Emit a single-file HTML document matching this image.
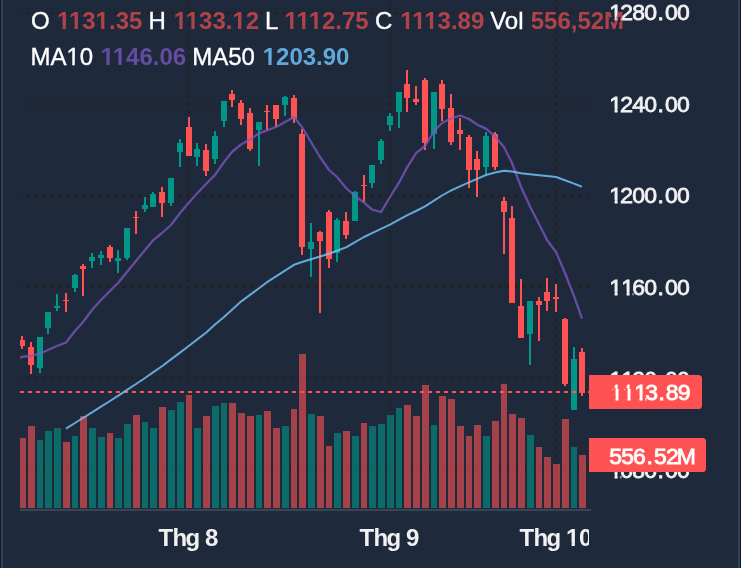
<!DOCTYPE html>
<html lang="vi"><head><meta charset="utf-8"><title>Chart</title>
<style>html,body{margin:0;padding:0;background:#1e293b;}body{width:741px;height:568px;overflow:hidden;position:relative;}svg{display:block;position:absolute;left:0;top:0;}text{font-family:"Liberation Sans",sans-serif;white-space:pre;}</style>
</head><body>
<svg width="741" height="568" viewBox="0 0 741 568">
<defs><clipPath id="pane"><rect x="20" y="0" width="569" height="508"/></clipPath>
<clipPath id="taxis"><rect x="0" y="511" width="589.1" height="57"/></clipPath>
<clipPath id="nofoot"><path clip-rule="evenodd" d="M0 0H741V568H0zM609.64 17.01H614.66V22.00H609.64zM617.51 17.01H620.81V22.00H617.51zM57.41 25.65H62.50V30.60H57.41zM65.79 25.65H74.52V30.60H65.79zM77.81 25.65H82.60V30.60H77.81zM96.13 25.65H101.22V30.60H96.13zM104.51 25.65H109.30V30.60H104.51zM174.21 25.65H179.30V30.60H174.21zM182.59 25.65H191.32V30.60H182.59zM194.61 25.65H199.40V30.60H194.61zM232.95 25.65H238.04V30.60H232.95zM241.33 25.65H246.11V30.60H241.33zM285.11 25.65H290.20V30.60H285.11zM293.49 25.65H302.22V30.60H293.49zM305.51 25.65H314.25V30.60H305.51zM317.54 25.65H322.33V30.60H317.54zM400.71 25.65H405.80V30.60H400.71zM409.09 25.65H417.82V30.60H409.09zM421.11 25.65H429.85V30.60H421.11zM433.14 25.65H437.93V30.60H433.14zM101.21 61.65H106.30V66.60H101.21zM109.59 61.65H118.32V66.60H109.59zM121.61 61.65H126.27V66.60H121.61zM263.21 61.65H268.30V66.60H263.21zM271.59 61.65H276.38V66.60H271.59zM67.05 62.13H72.26V66.77H67.05zM74.73 62.13H79.75V66.77H74.73zM609.64 109.01H614.66V114.00H609.64zM617.51 109.01H620.81V114.00H617.51zM609.64 200.01H614.66V205.00H609.64zM617.51 200.01H620.81V205.00H617.51zM609.64 292.01H614.66V297.00H609.64zM617.51 292.01H626.66V297.00H617.51zM629.51 292.01H632.75V297.00H629.51zM609.64 384.01H614.66V389.00H609.64zM617.51 384.01H626.66V389.00H617.51zM629.51 384.01H632.81V389.00H629.51zM610.54 397.01H615.57V402.00H610.54zM618.42 397.01H627.57V402.00H618.42zM630.42 397.01H639.56V402.00H630.42zM642.41 397.01H645.49V402.00H642.41zM609.64 475.01H614.66V480.00H609.64zM617.51 475.01H620.56V480.00H617.51zM566.51 542.65H571.60V547.60H566.51zM574.89 542.65H579.68V547.60H574.89z"/></clipPath>
</defs>
<rect x="0" y="0" width="741" height="568" fill="#1e293b"/>
<rect x="0" y="0" width="1" height="568" fill="#0f172a"/>
<rect x="1" y="0" width="2" height="568" fill="#334155"/>
<rect x="738" y="0" width="2" height="568" fill="#334155"/>
<rect x="740" y="0" width="1" height="568" fill="#0f172a"/>
<g fill="#f1f1f1" stroke="#f1f1f1" stroke-width="0.8" clip-path="url(#nofoot)">
<text x="598.51 609.24 621.02 632.81 645.93 653.15 664.93" y="20.000" font-size="22.6" transform="scale(1.018,1)">1280.00</text>
<text x="598.51 609.24 621.10 632.81 645.93 653.15 664.93" y="112.000" font-size="22.6" transform="scale(1.018,1)">1240.00</text>
<text x="598.51 609.24 621.02 632.81 645.93 653.15 664.93" y="203.000" font-size="22.6" transform="scale(1.018,1)">1200.00</text>
<text x="598.51 610.30 620.95 632.81 645.93 653.15 664.93" y="295.000" font-size="22.6" transform="scale(1.018,1)">1160.00</text>
<text x="598.51 610.30 621.02 632.81 645.93 653.15 664.93" y="387.000" font-size="22.6" transform="scale(1.018,1)">1120.00</text>
<text x="598.51 609.24 621.02 632.81 645.93 653.15 664.93" y="478.000" font-size="22.6" transform="scale(1.018,1)">1080.00</text>
</g>
<g clip-path="url(#pane)">
<g stroke="#24211e" stroke-width="2" stroke-dasharray="4 4" fill="none">
<line x1="189" y1="-2" x2="189" y2="508"/>
<line x1="390" y1="-2" x2="390" y2="508"/>
<line x1="556" y1="-2" x2="556" y2="508"/>
<line x1="18" y1="13" x2="589" y2="13"/>
<line x1="18" y1="104" x2="589" y2="104"/>
<line x1="18" y1="196" x2="589" y2="196"/>
<line x1="18" y1="287" x2="589" y2="287"/>
<line x1="18" y1="378" x2="589" y2="378"/>
<line x1="18" y1="470" x2="589" y2="470"/>
</g>
<g fill-opacity="0.6">
<rect x="19" y="438" width="7" height="70" fill="#ff5252"/>
<rect x="28" y="426" width="7" height="82" fill="#ff5252"/>
<rect x="37" y="440" width="6" height="68" fill="#009688"/>
<rect x="45" y="431" width="7" height="77" fill="#009688"/>
<rect x="54" y="428" width="7" height="80" fill="#009688"/>
<rect x="63" y="442" width="7" height="66" fill="#ff5252"/>
<rect x="72" y="436" width="6" height="72" fill="#009688"/>
<rect x="80" y="416" width="7" height="92" fill="#ff5252"/>
<rect x="89" y="428" width="7" height="80" fill="#009688"/>
<rect x="98" y="437" width="7" height="71" fill="#009688"/>
<rect x="107" y="433" width="6" height="75" fill="#ff5252"/>
<rect x="115" y="438" width="7" height="70" fill="#009688"/>
<rect x="124" y="424" width="7" height="84" fill="#009688"/>
<rect x="133" y="415" width="7" height="93" fill="#ff5252"/>
<rect x="142" y="422" width="6" height="86" fill="#009688"/>
<rect x="150" y="428" width="7" height="80" fill="#009688"/>
<rect x="159" y="407" width="7" height="101" fill="#ff5252"/>
<rect x="168" y="410" width="7" height="98" fill="#009688"/>
<rect x="177" y="402" width="7" height="106" fill="#009688"/>
<rect x="186" y="395" width="6" height="113" fill="#ff5252"/>
<rect x="194" y="428" width="7" height="80" fill="#009688"/>
<rect x="203" y="416" width="7" height="92" fill="#ff5252"/>
<rect x="212" y="406" width="7" height="102" fill="#009688"/>
<rect x="221" y="403" width="6" height="105" fill="#009688"/>
<rect x="229" y="403" width="7" height="105" fill="#ff5252"/>
<rect x="238" y="413" width="7" height="95" fill="#ff5252"/>
<rect x="247" y="416" width="7" height="92" fill="#ff5252"/>
<rect x="256" y="415" width="6" height="93" fill="#009688"/>
<rect x="264" y="411" width="7" height="97" fill="#ff5252"/>
<rect x="273" y="428" width="7" height="80" fill="#ff5252"/>
<rect x="282" y="426" width="7" height="82" fill="#009688"/>
<rect x="291" y="409" width="6" height="99" fill="#ff5252"/>
<rect x="299" y="354" width="7" height="154" fill="#ff5252"/>
<rect x="308" y="414" width="7" height="94" fill="#009688"/>
<rect x="317" y="416" width="7" height="92" fill="#ff5252"/>
<rect x="326" y="446" width="6" height="62" fill="#ff5252"/>
<rect x="334" y="433" width="7" height="75" fill="#009688"/>
<rect x="343" y="431" width="7" height="77" fill="#ff5252"/>
<rect x="352" y="436" width="7" height="72" fill="#009688"/>
<rect x="361" y="423" width="6" height="85" fill="#ff5252"/>
<rect x="369" y="426" width="7" height="82" fill="#009688"/>
<rect x="378" y="424" width="7" height="84" fill="#009688"/>
<rect x="387" y="415" width="7" height="93" fill="#009688"/>
<rect x="396" y="408" width="6" height="100" fill="#009688"/>
<rect x="404" y="405" width="7" height="103" fill="#ff5252"/>
<rect x="413" y="416" width="7" height="92" fill="#ff5252"/>
<rect x="422" y="385" width="7" height="123" fill="#ff5252"/>
<rect x="431" y="425" width="6" height="83" fill="#009688"/>
<rect x="439" y="396" width="7" height="112" fill="#ff5252"/>
<rect x="448" y="399" width="7" height="109" fill="#ff5252"/>
<rect x="457" y="426" width="7" height="82" fill="#ff5252"/>
<rect x="466" y="436" width="6" height="72" fill="#ff5252"/>
<rect x="474" y="425" width="7" height="83" fill="#ff5252"/>
<rect x="483" y="436" width="7" height="72" fill="#009688"/>
<rect x="492" y="421" width="7" height="87" fill="#ff5252"/>
<rect x="501" y="384" width="6" height="124" fill="#ff5252"/>
<rect x="509" y="414" width="7" height="94" fill="#ff5252"/>
<rect x="518" y="418" width="7" height="90" fill="#ff5252"/>
<rect x="527" y="435" width="7" height="73" fill="#009688"/>
<rect x="536" y="447" width="6" height="61" fill="#ff5252"/>
<rect x="544" y="457" width="7" height="51" fill="#ff5252"/>
<rect x="553" y="464" width="7" height="44" fill="#ff5252"/>
<rect x="562" y="419" width="7" height="89" fill="#ff5252"/>
<rect x="571" y="447" width="6" height="61" fill="#009688"/>
<rect x="579" y="455" width="7" height="53" fill="#ff5252"/>
</g>
<path fill="#ff5252" d="M21 336h2V349h-2zM19 340h6V346h-6z"/>
<path fill="#ff5252" d="M30 342h2V374h-2zM28 347h6V365h-6z"/>
<path fill="#009688" d="M39 337h2V373h-2zM37 337h6V368h-6z"/>
<path fill="#009688" d="M47 312h2V334h-2zM45 312h6V328h-6z"/>
<path fill="#009688" d="M56 294h2V311h-2zM54 306h6V308h-6z"/>
<path fill="#ff5252" d="M65 293h2V312h-2zM63 300h6V301h-6z"/>
<path fill="#009688" d="M74 274h2V292h-2zM72 275h6V288h-6z"/>
<path fill="#ff5252" d="M82 264h2V296h-2zM80 266h6V269h-6z"/>
<path fill="#009688" d="M91 253h2V268h-2zM89 257h6V261h-6z"/>
<path fill="#009688" d="M100 251h2V265h-2zM98 255h6V258h-6z"/>
<path fill="#ff5252" d="M109 245h2V262h-2zM107 247h6V258h-6z"/>
<path fill="#009688" d="M117 250h2V273h-2zM115 258h6V261h-6z"/>
<path fill="#009688" d="M126 228h2V260h-2zM124 228h6V258h-6z"/>
<path fill="#ff5252" d="M135 211h2V234h-2zM133 217h6V218h-6z"/>
<path fill="#009688" d="M144 197h2V212h-2zM142 205h6V209h-6z"/>
<path fill="#009688" d="M152 192h2V207h-2zM150 194h6V207h-6z"/>
<path fill="#ff5252" d="M161 187h2V217h-2zM159 192h6V203h-6z"/>
<path fill="#009688" d="M170 178h2V206h-2zM168 178h6V203h-6z"/>
<path fill="#009688" d="M179 139h2V167h-2zM177 143h6V152h-6z"/>
<path fill="#ff5252" d="M188 117h2V156h-2zM186 127h6V156h-6z"/>
<path fill="#009688" d="M196 143h2V166h-2zM194 149h6V157h-6z"/>
<path fill="#ff5252" d="M205 144h2V176h-2zM203 150h6V171h-6z"/>
<path fill="#009688" d="M214 131h2V164h-2zM212 136h6V159h-6z"/>
<path fill="#009688" d="M223 101h2V127h-2zM221 101h6V121h-6z"/>
<path fill="#ff5252" d="M231 90h2V107h-2zM229 94h6V100h-6z"/>
<path fill="#ff5252" d="M240 100h2V125h-2zM238 103h6V119h-6z"/>
<path fill="#ff5252" d="M249 108h2V151h-2zM247 113h6V149h-6z"/>
<path fill="#009688" d="M258 122h2V166h-2zM256 122h6V130h-6z"/>
<path fill="#ff5252" d="M266 105h2V130h-2zM264 111h6V112h-6z"/>
<path fill="#ff5252" d="M275 105h2V127h-2zM273 105h6V119h-6z"/>
<path fill="#009688" d="M284 96h2V116h-2zM282 97h6V105h-6z"/>
<path fill="#ff5252" d="M293 95h2V123h-2zM291 98h6V119h-6z"/>
<path fill="#ff5252" d="M301 129h2V255h-2zM299 134h6V247h-6z"/>
<path fill="#009688" d="M310 223h2V277h-2zM308 242h6V249h-6z"/>
<path fill="#ff5252" d="M319 231h2V313h-2zM317 232h6V241h-6z"/>
<path fill="#ff5252" d="M328 210h2V268h-2zM326 212h6V259h-6z"/>
<path fill="#009688" d="M336 218h2V262h-2zM334 220h6V253h-6z"/>
<path fill="#ff5252" d="M345 212h2V239h-2zM343 221h6V235h-6z"/>
<path fill="#009688" d="M354 191h2V221h-2zM352 192h6V221h-6z"/>
<path fill="#ff5252" d="M363 175h2V202h-2zM361 185h6V186h-6z"/>
<path fill="#009688" d="M371 165h2V188h-2zM369 165h6V183h-6z"/>
<path fill="#009688" d="M380 139h2V164h-2zM378 141h6V160h-6z"/>
<path fill="#009688" d="M389 113h2V131h-2zM387 116h6V125h-6z"/>
<path fill="#009688" d="M398 92h2V128h-2zM396 92h6V112h-6z"/>
<path fill="#ff5252" d="M406 70h2V112h-2zM404 84h6V98h-6z"/>
<path fill="#ff5252" d="M415 86h2V105h-2zM413 99h6V102h-6z"/>
<path fill="#ff5252" d="M424 78h2V150h-2zM422 80h6V143h-6z"/>
<path fill="#009688" d="M433 92h2V149h-2zM431 92h6V134h-6z"/>
<path fill="#ff5252" d="M441 80h2V121h-2zM439 84h6V109h-6z"/>
<path fill="#ff5252" d="M450 94h2V145h-2zM448 108h6V142h-6z"/>
<path fill="#ff5252" d="M459 118h2V150h-2zM457 130h6V134h-6z"/>
<path fill="#ff5252" d="M468 135h2V188h-2zM466 137h6V170h-6z"/>
<path fill="#ff5252" d="M476 151h2V197h-2zM474 159h6V170h-6z"/>
<path fill="#009688" d="M485 132h2V175h-2zM483 136h6V167h-6z"/>
<path fill="#ff5252" d="M494 132h2V170h-2zM492 134h6V167h-6z"/>
<path fill="#ff5252" d="M503 197h2V254h-2zM501 201h6V212h-6z"/>
<path fill="#ff5252" d="M511 206h2V303h-2zM509 218h6V303h-6z"/>
<path fill="#ff5252" d="M520 279h2V338h-2zM518 306h6V338h-6z"/>
<path fill="#009688" d="M529 301h2V365h-2zM527 301h6V334h-6z"/>
<path fill="#ff5252" d="M538 297h2V341h-2zM536 301h6V305h-6z"/>
<path fill="#ff5252" d="M546 278h2V311h-2zM544 292h6V301h-6z"/>
<path fill="#ff5252" d="M555 284h2V312h-2zM553 297h6V299h-6z"/>
<path fill="#ff5252" d="M564 318h2V386h-2zM562 319h6V384h-6z"/>
<path fill="#009688" d="M573 347h2V410h-2zM571 359h6V410h-6z"/>
<path fill="#ff5252" d="M581 348h2V396h-2zM579 352h6V393h-6z"/>
<line x1="20" y1="392" x2="589" y2="392" stroke="#ff5252" stroke-width="2" stroke-dasharray="4 4"/>
<polyline points="17,359.3 22,356.8 31,356 40,353.5 48,350 57,346 66,342.5 75,331 83,322 92,310 101,300 110,291 118,283 127,272 136,261 145,250 153,240.4 162,233 171,225 180,213 189,202.5 197,193.5 206,184 215,175 224,162 232,152 241,144.5 250,139.6 259,133.3 267,130.3 276,127 285,122 294,117 302,127 311,142 320,157 329,170 337,177 346,188 355,196 364,202.7 372,209.5 381,212.2 390,197 399,182.7 407,167.6 416,153.2 425,146 434,131.3 442,123 451,118.5 460,115.5 469,119 477,124.5 486,128.6 495,136.4 504,147 512,163 521,187 530,206.5 539,224 547,240 556,252 565,273 574,296 582,318.6" fill="none" stroke="#7e57c2" stroke-opacity="0.76" stroke-width="2.3" stroke-linejoin="round"/>
<polyline points="66,428.6 75,423.0 83,418.0 92,412.3 101,406.7 110,401.0 118,395.8 127,389.9 136,384.0 145,378.0 153,372.4 162,366.2 171,359.4 180,352.6 189,345.8 197,339.6 206,332.7 215,324.5 224,317.0 232,309.8 241,301.6 250,294.9 259,288.2 267,282.2 276,276.4 285,270.6 294,264.8 302,262.0 311,259.2 320,256.5 329,253.7 337,250.7 346,247.4 355,242.2 364,237.0 372,233.2 381,228.9 390,224.6 399,219.7 407,215.3 416,211.0 425,206.3 434,200.6 442,195.5 451,190.5 460,186.4 469,182.4 477,178.9 486,175.0 495,172.5 504,170.7 512,171.6 521,173.2 530,174.2 539,175.2 547,176.0 556,177.0 565,180.3 574,183.6 582,186.8" fill="none" stroke="#77cbfe" stroke-opacity="0.8" stroke-width="2" stroke-linejoin="round"/>
</g>
<rect x="20" y="509" width="571" height="2" fill="#3a4454"/>
<g clip-path="url(#taxis)"><g font-weight="bold" fill="#f1f1f1" clip-path="url(#nofoot)">
<text x="158.56 172.38 185.58 201.90 205.01" y="545.800" font-size="24">Thg 8</text>
<text x="359.56 373.38 386.58 402.90 406.06" y="545.800" font-size="24">Thg 9</text>
<text x="519.56 533.38 546.58 562.90 566.00 578.94" y="545.800" font-size="24">Thg 10</text>
</g></g>
<path fill="#ff5252" d="M589 375H698.5Q702 375 702 378.5V405.5Q702 409 698.5 409H589z"/>
<path fill="#ff5252" d="M589 438H702.5Q706 438 706 441.5V468.5Q706 472 702.5 472H589z"/>
<g fill="#ffffff" stroke="#ffffff" stroke-width="0.8" clip-path="url(#nofoot)">
<text x="599.40 611.19 622.97 633.76 646.81 654.03 665.82" y="400.000" font-size="22.6" transform="scale(1.018,1)">1113.89</text>
<text x="598.45 610.24 621.93 635.12 642.36 654.13 664.75" y="464.000" font-size="22.6" transform="scale(1.018,1)">556.52M</text>
</g>
<g font-size="24" clip-path="url(#nofoot)">
<text x="31.1" y="29.1" fill="#ffffff" stroke="#ffffff" stroke-width="0.35">O</text>
<text x="56.9" y="29.1" fill="#ff5252" opacity="0.65" font-weight="bold">1131.35</text>
<text x="148.4" y="29.1" fill="#ffffff" stroke="#ffffff" stroke-width="0.35">H</text>
<text x="173.7" y="29.1" fill="#ff5252" opacity="0.65" font-weight="bold">1133.12</text>
<text x="265" y="29.1" fill="#ffffff" stroke="#ffffff" stroke-width="0.35">L</text>
<text x="284.6" y="29.1" fill="#ff5252" opacity="0.65" font-weight="bold">1112.75</text>
<text x="375" y="29.1" fill="#ffffff" stroke="#ffffff" stroke-width="0.35">C</text>
<text x="400.2" y="29.1" fill="#ff5252" opacity="0.65" font-weight="bold">1113.89</text>
<text x="490.2" y="29.1" fill="#ffffff" stroke="#ffffff" stroke-width="0.35">Vol</text>
<text x="530.7" y="29.1" fill="#ff5252" opacity="0.65" font-weight="bold">556,52M</text>
<text x="30.4" y="65.1" fill="#ffffff" stroke="#ffffff" stroke-width="0.35">MA10</text>
<text x="100.7" y="65.1" fill="#7e57c2" opacity="0.76" font-weight="bold">1146.06</text>
<text x="192.2" y="65.1" fill="#ffffff" stroke="#ffffff" stroke-width="0.35">MA50</text>
<text x="262.7" y="65.1" fill="#62a8d8" font-weight="bold">1203.90</text>
</g>
</svg>
</body></html>
